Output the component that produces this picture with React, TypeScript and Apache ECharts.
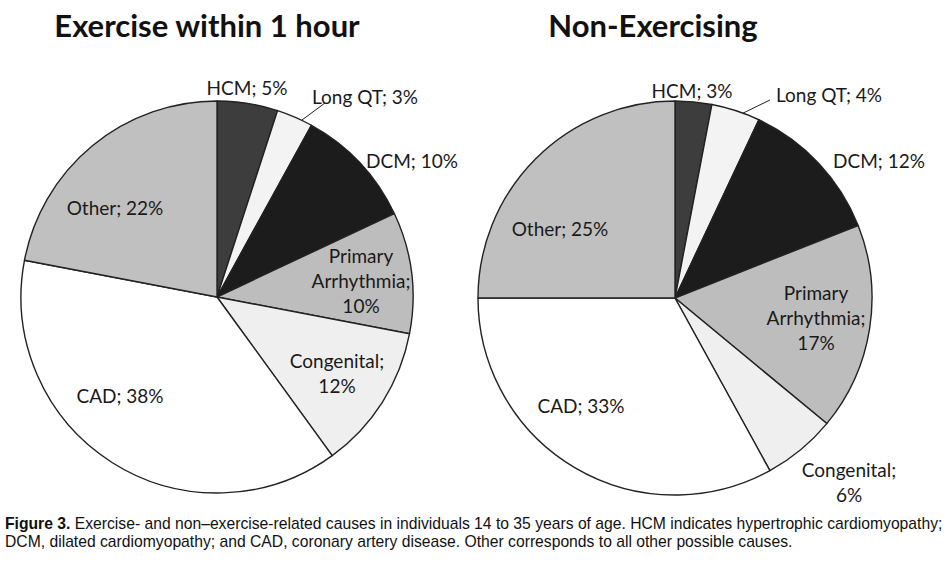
import React, { useEffect, useRef } from "react";
import * as echarts from "echarts";

const causes = ["HCM", "Long QT", "DCM", "Primary Arrhythmia", "Congenital", "CAD", "Other"];
const exerciseValues = [5, 3, 10, 10, 12, 38, 22];
const nonExerciseValues = [3, 4, 12, 17, 6, 33, 25];
const titles = ["Exercise within 1 hour", "Non-Exercising"];
const captionBold = "Figure 3.";
const captionLine1 =
  " Exercise- and non\u2013exercise-related causes in individuals 14 to 35 years of age. HCM indicates hypertrophic cardiomyopathy;";
const captionLine2 =
  "DCM, dilated cardiomyopathy; and CAD, coronary artery disease. Other corresponds to all other possible causes.";

// styles
const sliceColors = ["#3d3d3d", "#f3f3f3", "#1c1c1c", "#bdbdbd", "#efefef", "#ffffff", "#c0c0c0"];
const labelPositions = [
  [[247, 87], [365, 96], [412, 160], [361, 280], [337, 373], [120, 395], [115, 207]],
  [[692, 90], [829, 94], [879, 160], [816, 317], [849, 482], [581, 405], [560, 228]],
];
const leaderLines = [
  [[302, 120], [325, 103]],
  [[735, 117], [770, 100]],
];
const pieCenters = [[217, 297], [675, 298]];
const pieRadii = [196, 197];

const LABEL_FONT = "Lato, 'Open Sans', sans-serif";
const CAPTION_FONT = "'Liberation Sans', Arial, sans-serif";

function formatLabel(name: string, value: number): string {
  if (name === "Primary Arrhythmia") return `Primary\nArrhythmia;\n${value}%`;
  if (name === "Congenital") return `Congenital;\n${value}%`;
  return `${name}; ${value}%`;
}

function buildSeries(values: number[], idx: number) {
  return {
    type: "pie",
    center: pieCenters[idx],
    radius: pieRadii[idx],
    startAngle: 90,
    clockwise: true,
    silent: true,
    data: causes.map((name, i) => ({
      name,
      value: values[i],
      itemStyle: { color: sliceColors[i] },
      label: { position: i === 1 ? "outside" : "inside" },
      labelLine: { show: i === 1 },
    })),
    itemStyle: { borderColor: "#222", borderWidth: 1.4 },
    label: {
      show: true,
      formatter: (p: any) => formatLabel(p.name, p.value),
      fontFamily: LABEL_FONT,
      fontSize: 19,
      lineHeight: 25,
      color: "#1a1a1a",
      align: "center",
    },
    labelLine: { lineStyle: { color: "#222", width: 1 } },
    labelLayout: (p: any) => {
      const pos = labelPositions[idx][p.dataIndex];
      const res: any = { x: pos[0], y: pos[1], align: "center", verticalAlign: "middle" };
      if (p.dataIndex === 1) res.labelLinePoints = [leaderLines[idx][0], leaderLines[idx][0], leaderLines[idx][1]];
      return res;
    },
  };
}

export default function App() {
  const ref = useRef<HTMLDivElement>(null);
  useEffect(() => {
    if (!ref.current) return;
    const chart = echarts.init(ref.current, undefined, { renderer: "svg" });
    chart.setOption({
      animation: false,
      backgroundColor: "#ffffff",
      series: [buildSeries(exerciseValues, 0), buildSeries(nonExerciseValues, 1)],
      graphic: [
        {
          type: "text",
          x: 207,
          y: 25,
          style: {
            text: titles[0],
            font: "bold 31px Lato, 'Open Sans', sans-serif",
            fill: "#111",
            align: "center",
            verticalAlign: "middle",
          },
        },
        {
          type: "text",
          x: 653,
          y: 25,
          style: {
            text: titles[1],
            font: "bold 31px Lato, 'Open Sans', sans-serif",
            fill: "#111",
            align: "center",
            verticalAlign: "middle",
          },
        },
        {
          type: "text",
          x: 5,
          y: 532,
          style: {
            text: `{b|${captionBold}}{n|${captionLine1}}\n{n|${captionLine2}}`,
            verticalAlign: "middle",
            rich: {
              b: {
                fontFamily: CAPTION_FONT,
                fontWeight: "bold",
                fontSize: 15.7,
                lineHeight: 18,
                fill: "#111",
              },
              n: {
                fontFamily: CAPTION_FONT,
                fontSize: 15.7,
                lineHeight: 18,
                fill: "#111",
              },
            },
          },
        },
      ],
    });
    return () => chart.dispose();
  }, []);
  return <div ref={ref} style={{ position: "fixed", left: 0, top: 0, width: 950, height: 565 }} />;
}
